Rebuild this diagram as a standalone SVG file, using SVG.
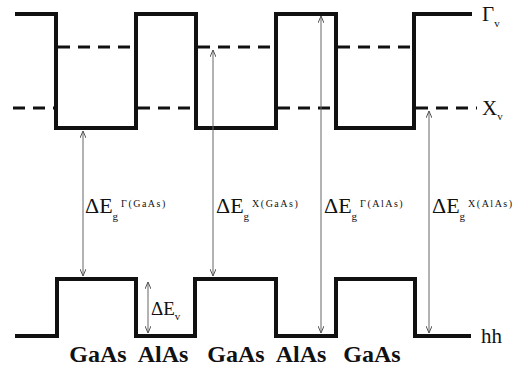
<svg xmlns="http://www.w3.org/2000/svg" width="528" height="372" viewBox="0 0 528 372">
<defs>
<marker id="ah" viewBox="0 0 7 6" refX="7" refY="3" markerWidth="7" markerHeight="6" orient="auto-start-reverse" markerUnits="userSpaceOnUse">
<path d="M0,0 L7,3 L0,6" fill="none" stroke="#555" stroke-width="1"/>
</marker>
<style>
.band{fill:none;stroke:#111;stroke-width:4;stroke-linejoin:miter}
.dash{fill:none;stroke:#111;stroke-width:3;stroke-dasharray:12 8}
.arr{fill:none;stroke:#666;stroke-width:1;marker-start:url(#ah);marker-end:url(#ah)}
.lbl{font-family:"Liberation Serif","Times New Roman",serif;fill:#111}
.big{font-size:22px}
.sup{font-size:10px;letter-spacing:1.5px}
.sub{font-size:11px}
.mat{font-size:24px;font-weight:bold;text-anchor:middle}
</style>
</defs>
<rect width="528" height="372" fill="#fff"/>
<g id="conduction-gamma">
<path class="band" d="M15,14 H56 V128 H136 V14 H196 V128 H276 V14 H336 V128 H414 V14 H472"/>
</g>
<g id="levels-dashed">
<path class="dash" d="M58,47 H134 M198,47 H274 M338,47 H412"/>
<path class="dash" d="M13,108 H54 M138,108 H194 M278,108 H334 M416,108 H477"/>
</g>
<g id="valence-hh">
<path class="band" d="M15,336 H57 V279 H136 V336 H195 V279 H276 V336 H336 V279 H415 V336 H471"/>
</g>
<g id="connectors">
<line class="arr" x1="83" y1="131" x2="83" y2="276"/>
<line class="arr" x1="213" y1="50" x2="213" y2="276"/>
<line class="arr" x1="321" y1="16" x2="321" y2="333"/>
<line class="arr" x1="429" y1="111" x2="429" y2="333"/>
<line class="arr" x1="148" y1="282" x2="148" y2="333"/>
</g>
<g id="labels">
<text class="lbl" font-family="Liberation Serif, serif" x="482" y="21" font-size="21">Γ<tspan class="sub" dy="6">v</tspan></text>
<text class="lbl" font-family="Liberation Serif, serif" x="482" y="115" font-size="21">X<tspan class="sub" dy="5">v</tspan></text>
<text class="lbl" font-family="Liberation Serif, serif" x="481" y="343" font-size="21">hh</text>
<text class="lbl big" font-family="Liberation Serif, serif" x="85" y="213">ΔE<tspan class="sub" dy="7">g</tspan><tspan class="sup" dx="3" dy="-13">Γ(GaAs)</tspan></text>
<text class="lbl big" font-family="Liberation Serif, serif" x="216" y="213">ΔE<tspan class="sub" dy="7">g</tspan><tspan class="sup" dx="3" dy="-13">X(GaAs)</tspan></text>
<text class="lbl big" font-family="Liberation Serif, serif" x="324" y="213">ΔE<tspan class="sub" dy="7">g</tspan><tspan class="sup" dx="3" dy="-13">Γ(AlAs)</tspan></text>
<text class="lbl big" font-family="Liberation Serif, serif" x="432" y="213">ΔE<tspan class="sub" dy="7">g</tspan><tspan class="sup" dx="3" dy="-13">X(AlAs)</tspan></text>
<text class="lbl" font-family="Liberation Serif, serif" x="151" y="315" font-size="19">ΔE<tspan class="sub" dy="5">v</tspan></text>
<text class="lbl mat" font-family="Liberation Serif, serif" x="98" y="362">GaAs</text>
<text class="lbl mat" font-family="Liberation Serif, serif" x="163" y="362">AlAs</text>
<text class="lbl mat" font-family="Liberation Serif, serif" x="236" y="362">GaAs</text>
<text class="lbl mat" font-family="Liberation Serif, serif" x="301" y="362">AlAs</text>
<text class="lbl mat" font-family="Liberation Serif, serif" x="372" y="362">GaAs</text>
</g>
</svg>
